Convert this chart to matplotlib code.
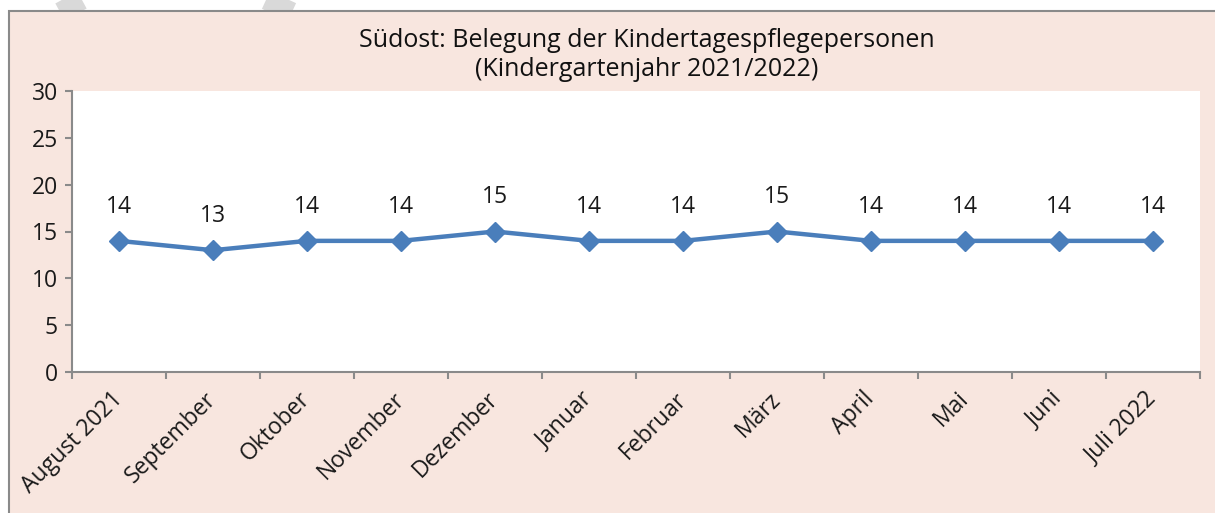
import matplotlib.pyplot as plt
from matplotlib.patches import Rectangle
from matplotlib.lines import Line2D

plt.rcParams['font.family'] = ['Open Sans', 'DejaVu Sans']

months = ['August 2021', 'September', 'Oktober', 'November', 'Dezember', 'Januar',
          'Februar', 'März', 'April', 'Mai', 'Juni', 'Juli 2022']
belegung = [14, 13, 14, 14, 15, 14, 14, 15, 14, 14, 14, 14]
y_ticks = [0, 5, 10, 15, 20, 25, 30]

W, H = 1215, 513
fig = plt.figure(figsize=(W / 100, H / 100), dpi=100, facecolor='white')

# grey strokes peeking out above the chart frame
for (x0, x1) in [(82, 60), (266, 292)]:
    fig.add_artist(Line2D([x0 / W, x1 / W], [1.0, 1 - 12 / H], color='#d9d9d9',
                          lw=14, solid_capstyle='butt', zorder=0))

# chart frame
fig.add_artist(Rectangle((9 / W, -0.05), 1.1, 1.05 - 11 / H, transform=fig.transFigure,
                         facecolor='#f8e6df', edgecolor='#8a8a8a', lw=1.5, zorder=1))

ax = fig.add_axes([72 / W, 1 - 372 / H, (1200 - 72) / W, (372 - 91) / H], zorder=2)
ax.set_facecolor('white')

x = list(range(len(months)))
ax.plot(x, belegung, color='#4a7ebb', lw=3.2, marker='D', markersize=10,
        markerfacecolor='#4a7ebb', markeredgecolor='#4a7ebb', zorder=3)
for xi, v in zip(x, belegung):
    ax.annotate(str(v), (xi, v), xytext=(0, 16), textcoords='offset points',
                ha='center', va='bottom', fontsize=16.5, color='#1a1a1a')

ax.set_xlim(-0.5, len(months) - 0.5)
ax.set_ylim(0, 30)
ax.set_yticks(y_ticks)
ax.set_xticks([i - 0.5 for i in range(len(months) + 1)])
ax.set_xticklabels([])
ax.set_xticks(x, minor=True)
ax.set_xticklabels(months, minor=True, rotation=45, ha='right', va='center',
                   rotation_mode='anchor', fontsize=16.5, color='#1a1a1a')
ax.tick_params(axis='x', which='minor', length=0, pad=17)
ax.tick_params(axis='both', which='major', length=5, width=1.5, color='#8a8a8a',
               labelsize=16.5, labelcolor='#1a1a1a')
ax.tick_params(axis='y', pad=5)

for s in ['top', 'right']:
    ax.spines[s].set_visible(False)
for s in ['left', 'bottom']:
    ax.spines[s].set_color('#8a8a8a')
    ax.spines[s].set_linewidth(1.5)

fig.text(647 / W, 1 - 55 / H, 'Südost: Belegung der Kindertagespflegepersonen\n'
         '(Kindergartenjahr 2021/2022)', ha='center', va='center', fontsize=18,
         color='#111111', linespacing=1.2, zorder=3)

fig.savefig('out.png', dpi=100)
